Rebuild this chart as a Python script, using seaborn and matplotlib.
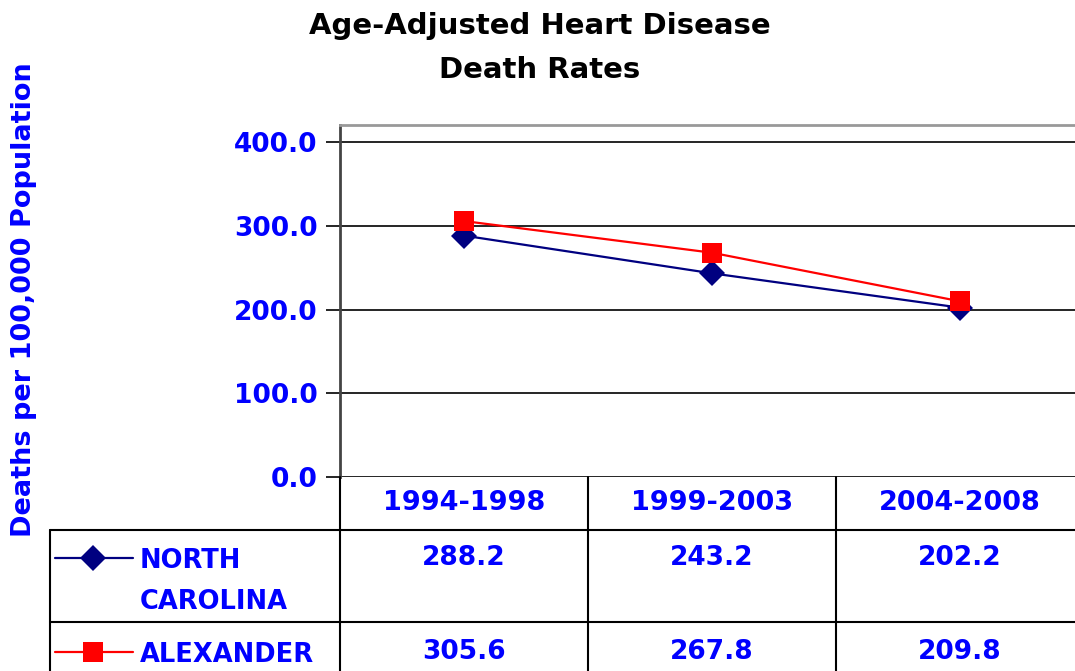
import numpy as np
import pandas as pd
import matplotlib
matplotlib.use("Agg")
import matplotlib.pyplot as plt
import seaborn as sns

# 데이터
periods = ["1994-1998", "1999-2003", "2004-2008"]
series_names = ["NORTH\nCAROLINA", "ALEXANDER"]
nc_rates = [288.2, 243.2, 202.2]
alex_rates = [305.6, 267.8, 209.8]
y_ticks = [0, 100, 200, 300, 400]

title = "Age-Adjusted Heart Disease\nDeath Rates"
y_label = "Deaths per 100,000 Population"

blue = "#0000ff"
line_colors = ["#000080", "#ff0000"]
line_markers = ["D", "s"]
marker_sizes = [13, 15]

sns.set_style("white")
plt.rcParams['font.family'] = ['DejaVu Sans']

W, H = 1075, 671
fig = plt.figure(figsize=(W / 100, H / 100), dpi=100)

df = pd.DataFrame({
    "period": list(range(len(periods))) * 2,
    "rate": nc_rates + alex_rates,
    "series": [series_names[0]] * 3 + [series_names[1]] * 3,
})

# 플롯 영역 (픽셀 기준 위치)
left, right, top, bottom = 340, 1084, 125, 477
ax = fig.add_axes([left / W, 1 - bottom / H, (right - left) / W, (bottom - top) / H])
sns.lineplot(data=df, x="period", y="rate", hue="series", style="series",
             palette=line_colors, markers=line_markers, dashes=False,
             linewidth=1.6, legend=False, ax=ax)
for line, ms, c in zip(ax.lines, marker_sizes, line_colors):
    line.set_markersize(ms)
    line.set_markeredgewidth(0)
    line.set_markerfacecolor(c)

ymax = (bottom - top) / 83.75 * 100
ax.set_ylim(0, ymax)
ax.set_xlim(-0.5, len(periods) - 0.5)
ax.set_yticks(y_ticks)
ax.set_yticklabels([f"{v:.1f}" for v in y_ticks], color=blue, fontsize=19, fontweight="bold")
ax.set_xticks([])
ax.set_xlabel("")
ax.set_ylabel("")
for v in y_ticks:
    ax.axhline(v, color="black", linewidth=1.2, zorder=0)
ax.tick_params(axis="y", length=10, width=1.2, color="black", pad=6, direction="out", left=True)
ax.spines["top"].set_color("#999999")
ax.spines["top"].set_linewidth(2)
ax.spines["left"].set_color("#444444")
ax.spines["left"].set_linewidth(2)
ax.spines["right"].set_visible(False)
ax.spines["bottom"].set_visible(False)

# 제목과 축 라벨
fig.text(540 / W, 1 - 48 / H, title, ha="center", va="center", fontsize=21,
         fontweight="bold", color="black", linespacing=1.75)
fig.text(24 / W, 1 - 300 / H, y_label, ha="center", va="center", rotation=90,
         fontsize=19.5, fontweight="bold", color=blue)

# 데이터 테이블
tx = fig.add_axes([0, 0, 1, 1], facecolor="none")
tx.set_xlim(0, W)
tx.set_ylim(H, 0)
tx.axis("off")
col_w = (right - left) / len(periods)
kw = dict(color="black", linewidth=1.5)
tx.plot([50, right], [530, 530], **kw)
tx.plot([50, right], [622, 622], **kw)
tx.plot([50, 50], [530, H + 5], **kw)
for i in range(len(periods) + 1):
    x = left + i * col_w
    tx.plot([x, x], [bottom, H + 5], **kw)

for i, p in enumerate(periods):
    tx.text(left + (i + 0.5) * col_w, 503, p, ha="center", va="center",
            color=blue, fontsize=19.5, fontweight="bold")

row_y = [558, 652]
for r, (name, vals) in enumerate(zip(series_names, [nc_rates, alex_rates])):
    y = row_y[r]
    tx.plot([55, 133], [y, y], color=line_colors[r], linewidth=1.6)
    tx.plot([93], [y], marker=line_markers[r], color=line_colors[r],
            markersize=marker_sizes[r], markeredgewidth=0)
    tx.text(140, y - 10, name, ha="left", va="top", color=blue, fontsize=18.5,
            fontweight="bold", linespacing=1.75)
    for i, v in enumerate(vals):
        tx.text(left + (i + 0.5) * col_w, y, f"{v:.1f}", ha="center", va="center",
                color=blue, fontsize=19, fontweight="bold")

fig.savefig("out.png", dpi=100)
